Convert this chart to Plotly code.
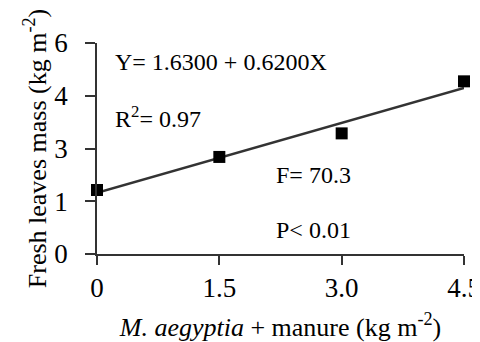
import numpy as np
import plotly.graph_objects as go

# Data
manure = [0, 1.5, 3.0, 4.5]
fresh_mass = [1.82, 2.76, 3.43, 4.91]
x_ticks = [0, 1.5, 3.0, 4.5]
x_tick_labels = ["0", "1.5", "3.0", "4.5"]
y_ticks = [0, 1.5, 3, 4.5, 6]
y_tick_labels = ["0", "1", "3", "4", "6"]
stats_text = ["Y= 1.6300 + 0.6200X", "R<sup>2</sup>= 0.97", "F= 70.3", "P< 0.01"]

slope, intercept = np.polyfit(manure, fresh_mass, 1)
fit_x = [manure[0], manure[-1]]
fit_y = [intercept + slope * v for v in fit_x]

FONT = "Liberation Serif, Times New Roman, serif"

fig = go.Figure()
fig.add_trace(go.Scatter(x=fit_x, y=fit_y, mode="lines",
                         line=dict(color="#333333", width=2.4), showlegend=False,
                         cliponaxis=False))
fig.add_trace(go.Scatter(x=manure, y=fresh_mass, mode="markers",
                         marker=dict(symbol="square", size=12, color="black"),
                         showlegend=False, cliponaxis=False))

ann_pos = [(0.2, 5.46), (0.2, 3.90), (2.17, 2.24), (2.17, 0.68)]
for t, (ax, ay) in zip(stats_text, ann_pos):
    fig.add_annotation(x=ax, y=ay, xref="x", yref="y", text=t, showarrow=False,
                       xanchor="left", yanchor="middle",
                       font=dict(family=FONT, size=24, color="black"))

# page body has an 8px margin, so the figure is 8px smaller than the window
fig.update_layout(
    width=472, height=334,
    margin=dict(l=89, r=16, t=35, b=88),
    paper_bgcolor="white", plot_bgcolor="white",
    font=dict(family=FONT, color="black"),
)
fig.update_xaxes(range=[0, 4.5], tickvals=x_ticks, ticktext=x_tick_labels,
                 showgrid=False, zeroline=False, showline=True,
                 linecolor="#333333", linewidth=1.5, ticks="outside",
                 ticklen=9, tickcolor="#333333", tickwidth=1.5,
                 ticklabeloverflow="allow", automargin=False,
                 tickfont=dict(family=FONT, size=27, color="black"),
                 title=dict(text="<i>M. aegyptia</i> + manure (kg m<sup>-2</sup>)",
                            font=dict(family=FONT, size=26, color="black"),
                            standoff=16))
fig.update_yaxes(range=[0, 6], tickvals=y_ticks, ticktext=y_tick_labels,
                 showgrid=False, zeroline=False, showline=True,
                 linecolor="#333333", linewidth=1.5, ticks="outside",
                 ticklen=10, tickcolor="#333333", tickwidth=1.5,
                 ticklabelstandoff=12, automargin=False,
                 tickfont=dict(family=FONT, size=27, color="black"),
                 title=dict(text="Fresh leaves mass (kg m<sup>-2</sup>)",
                            font=dict(family=FONT, size=26, color="black"),
                            standoff=0))

fig.write_html("out.html")
